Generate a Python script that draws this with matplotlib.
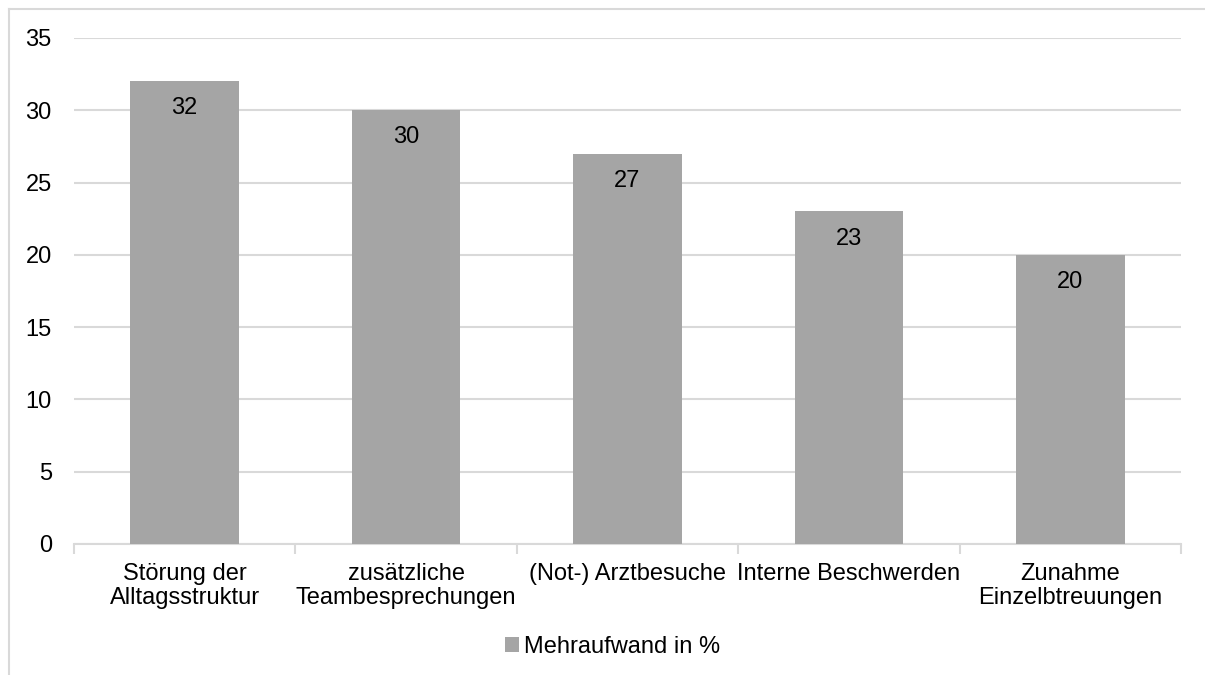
import matplotlib.pyplot as plt
from matplotlib.lines import Line2D

plt.rcParams['font.family'] = ['Liberation Sans', 'DejaVu Sans']

# Daten
kategorien = ['Störung der\nAlltagsstruktur', 'zusätzliche\nTeambesprechungen',
              '(Not-) Arztbesuche', 'Interne Beschwerden', 'Zunahme\nEinzelbtreuungen']
werte = [32, 30, 27, 23, 20]
serie = 'Mehraufwand in %'
y_ticks = [0, 5, 10, 15, 20, 25, 30, 35]

balken_farbe = '#A5A5A5'
gitter_farbe = '#D9D9D9'
schrift = 17

fig = plt.figure(figsize=(12.05, 6.75), dpi=100)
ax = fig.add_axes([74 / 1205, 1 - 544 / 675, (1181 - 74) / 1205, (544 - 38) / 675])

# Rahmen um das Diagramm (nur links und oben sichtbar)
rx, ry = 9 / 1205, 1 - 9 / 675
fig.add_artist(Line2D([rx, rx], [0, ry], transform=fig.transFigure,
                      color=gitter_farbe, linewidth=1.5))
fig.add_artist(Line2D([rx, 1], [ry, ry], transform=fig.transFigure,
                      color=gitter_farbe, linewidth=1.5))

x = range(len(kategorien))
bars = ax.bar(x, werte, width=0.49, color=balken_farbe, label=serie, zorder=3)

for xi, v in zip(x, werte):
    ax.annotate(str(v), (xi, v), xytext=(0, -19.5), textcoords='offset points',
                ha='center', va='center', fontsize=schrift, color='#000000', zorder=4)

ax.set_xlim(-0.5, len(kategorien) - 0.5)
ax.set_ylim(0, 35)
ax.set_yticks(y_ticks)
ax.set_xticks(list(x))
ax.set_xticklabels(kategorien, fontsize=schrift, linespacing=1.1)
ax.set_xticks([i - 0.5 for i in range(len(kategorien) + 1)], minor=True)

ax.tick_params(axis='y', length=0, pad=16, labelsize=schrift)
ax.tick_params(axis='x', which='major', length=0, pad=14)
ax.tick_params(axis='x', which='minor', length=7, width=1.5, color=gitter_farbe)

ax.grid(axis='y', color=gitter_farbe, linewidth=1.5, zorder=0)
for s in ['top', 'right', 'left']:
    ax.spines[s].set_visible(False)
ax.spines['bottom'].set_color(gitter_farbe)
ax.spines['bottom'].set_linewidth(1.5)

fig.legend(handles=[bars], labels=[serie], loc='center', bbox_to_anchor=(0.508, 0.042),
           frameon=False, fontsize=schrift, handlelength=0.6, handleheight=0.6,
           handletextpad=0.2)

fig.savefig('out.png', dpi=100)
